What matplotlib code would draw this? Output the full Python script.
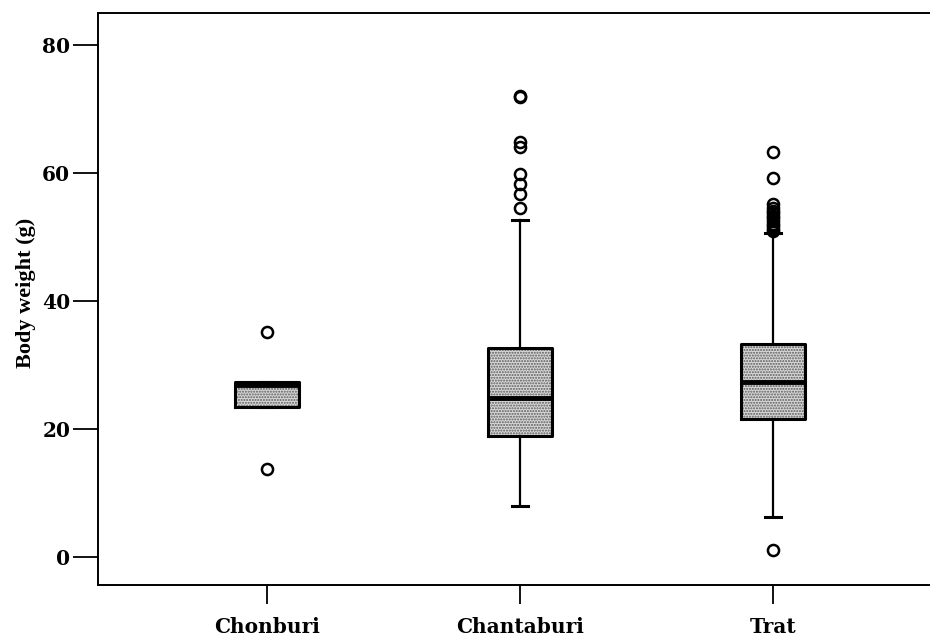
import numpy as np
import matplotlib.pyplot as plt

# body weight summaries per province (g)
provinces = ['Chonburi', 'Chantaburi', 'Trat']
q1 = [23.5, 18.9, 21.5]
medians = [26.8, 24.9, 27.4]
q3 = [27.3, 32.6, 33.3]
whisker_low = [23.5, 7.9, 6.3]
whisker_high = [27.3, 52.7, 50.6]
outliers = [
    [35.2, 13.7],
    [54.5, 56.7, 58.3, 59.9, 64.1, 64.9, 71.8, 72.0],
    [1.1, 50.9, 51.3, 51.7, 52.1, 52.5, 52.9, 53.3, 53.7, 54.1, 54.6, 55.2, 59.2, 63.3],
]

plt.rcParams['font.family'] = ['DejaVu Serif']
plt.rcParams['font.weight'] = 'bold'

stats = []
for i, name in enumerate(provinces):
    stats.append({
        'label': name,
        'q1': q1[i], 'med': medians[i], 'q3': q3[i],
        'whislo': whisker_low[i], 'whishi': whisker_high[i],
        'fliers': outliers[i],
    })

fig = plt.figure(figsize=(9.3, 6.4), dpi=100)
ax = fig.add_axes([0.1054, 0.0859, 0.8946, 0.8938])

pos = [1, 2, 3]
# stippled fill first, outlines drawn on top
ax.bxp(stats, positions=pos, widths=0.255, patch_artist=True, showcaps=False,
       showfliers=False,
       boxprops=dict(facecolor='#d8d8d8', edgecolor='#5a5a5a', hatch='......', linewidth=0),
       whiskerprops=dict(linewidth=0), medianprops=dict(linewidth=0))
ax.bxp(stats, positions=pos, widths=0.255, capwidths=0.065,
       boxprops=dict(color='black', linewidth=2.2),
       whiskerprops=dict(color='black', linewidth=1.6),
       capprops=dict(color='black', linewidth=2.2),
       medianprops=dict(color='black', linewidth=3.5),
       flierprops=dict(marker='o', markersize=8, markerfacecolor='none',
                       markeredgecolor='black', markeredgewidth=1.8))

ax.set_xlim(0.332, 3.62)
ax.set_ylim(-4.375, 85.0)
ax.set_yticks([0, 20, 40, 60, 80])
ax.set_xticks(pos)
ax.set_xticklabels(provinces)
ax.set_ylabel('Body weight (g)', fontsize=16, fontweight='bold',
              family=['Liberation Serif'])
ax.yaxis.set_label_coords(-0.074, 0.51)

ax.spines['right'].set_visible(False)
for s in ['left', 'top', 'bottom']:
    ax.spines[s].set_linewidth(1.4)
ax.tick_params(axis='y', length=18, width=1.3, labelsize=14.5, pad=2)
ax.tick_params(axis='x', length=14, width=1.3, labelsize=14.5, pad=9)

fig.savefig('out.png', dpi=100)
